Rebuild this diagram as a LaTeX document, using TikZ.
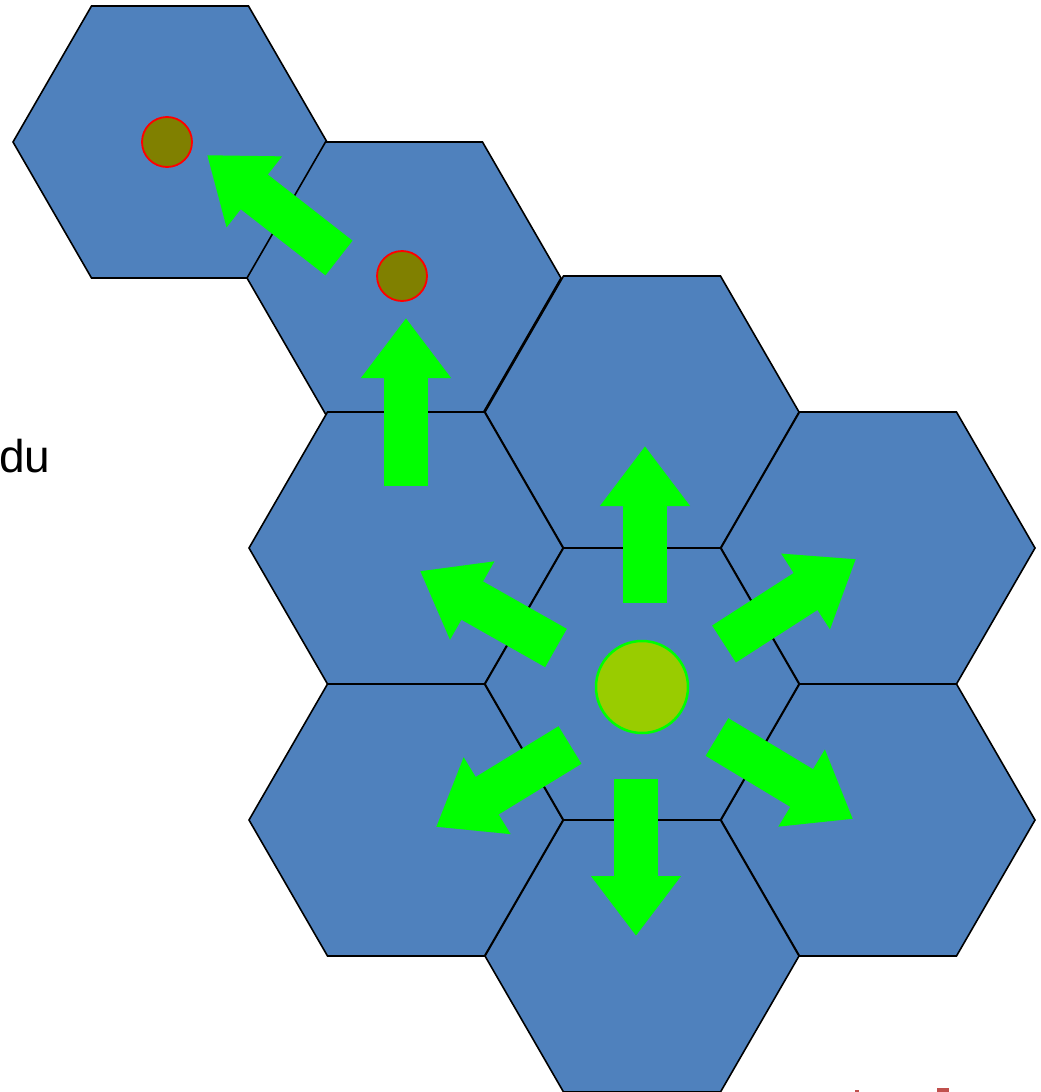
\documentclass[tikz,border=0pt]{standalone}
\usepackage{fontspec}
\setmainfont{Liberation Sans}
\usetikzlibrary{arrows.meta}

\definecolor{cellblue}{HTML}{4F81BD}
\definecolor{arrowgreen}{HTML}{00FF00}
\definecolor{peerolive}{HTML}{808000}
\definecolor{srcgreen}{HTML}{99CC00}
\definecolor{markred}{HTML}{C0504D}

\tikzset{
  hexcell/.style={draw=black,fill=cellblue,line width=1.6pt,line join=miter},
  flood/.style={draw=arrowgreen,line width=44pt,-{Triangle[length=60pt,width=86pt]}},
  peer/.style={draw=red,fill=peerolive,line width=1.8pt},
  source/.style={draw=arrowgreen,fill=srcgreen,line width=2.5pt}
}

\begin{document}
\begin{tikzpicture}[x=1pt,y=-1pt]
	\useasboundingbox (0,0) rectangle (1041,1092);
	% cells
	\foreach \cx/\cy in {170/142,404/278,642/412,878/548,878/820,642/956,406/820,406/548,642/684}
		\draw[hexcell] (\cx,\cy) +(0:157) -- +(60:157) -- +(120:157) -- +(180:157)
			-- +(240:157) -- +(300:157) -- cycle;
	\node[anchor=base west,font=\fontsize{46}{52}\selectfont,inner sep=0pt] (label) at (-1,472) {du};
	% flooding arrows
	\foreach \ax/\ay/\bx/\by in {406/486/406/318, 645/603/645/446, 636/779/636/936,
		556/648/420/571, 724/644/856/559, 717/737/853/819, 570/745/436/827, 339/258/207/155}
		\draw[flood] (\ax,\ay) -- (\bx,\by);
	\node[source,circle,minimum size=92pt,inner sep=0pt] (src) at (642,687) {};
	\node[peer,circle,minimum size=50pt,inner sep=0pt] (peerA) at (167,142) {};
	\node[peer,circle,minimum size=50pt,inner sep=0pt] (peerB) at (402,276) {};
	\fill[markred] (855,1090) rectangle (859,1092);
	\fill[markred] (937,1088) rectangle (949,1092);
\end{tikzpicture}
\end{document}
